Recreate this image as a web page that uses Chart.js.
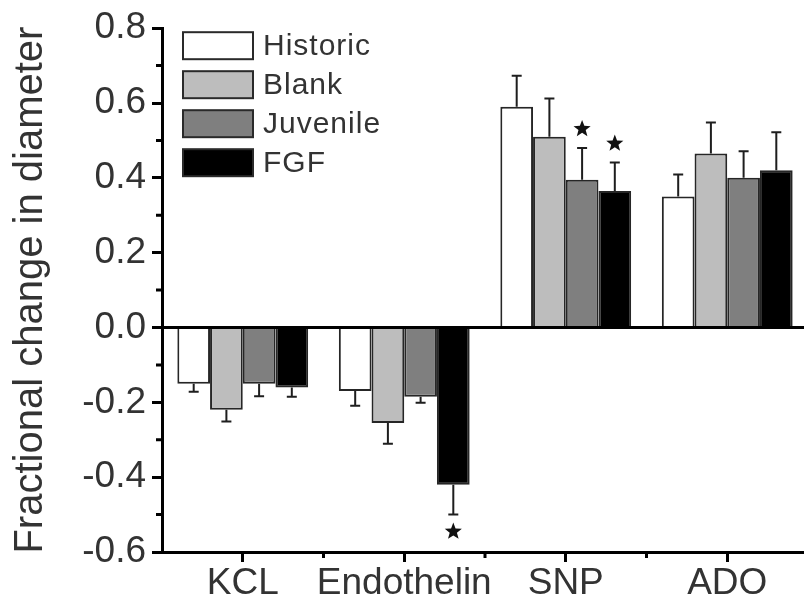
<!DOCTYPE html>
<html>
<head>
<meta charset="utf-8">
<script src="https://cdn.jsdelivr.net/npm/chart.js@4"></script>
<style>
  html, body { margin: 0; padding: 0; background: #fff; overflow: hidden; }
  canvas { display: block; }
</style>
</head>
<body>
<canvas id="c" width="810" height="607"></canvas>
<script>
// Vessel response by treatment group
const categories = ['KCL', 'Endothelin', 'SNP', 'ADO'];
const seriesNames = ['Historic', 'Blank', 'Juvenile', 'FGF'];

const historic = [-0.15, -0.17, 0.59, 0.35];
const blank    = [-0.22, -0.255, 0.51, 0.465];
const juvenile = [-0.15, -0.185, 0.395, 0.40];
const fgf      = [-0.16, -0.42, 0.365, 0.42];

// standard errors (drawn away from zero)
const historicErr = [0.022, 0.039, 0.083, 0.059];
const blankErr    = [0.031, 0.056, 0.102, 0.083];
const juvenileErr = [0.034, 0.016, 0.085, 0.071];
const fgfErr      = [0.025, 0.080, 0.076, 0.102];

// significant differences: [series index, category index]
const significant = [[2, 2], [3, 2], [3, 1]];

const yTicks = [-0.6, -0.4, -0.2, 0.0, 0.2, 0.4, 0.6, 0.8];
const yMinorTicks = [-0.5, -0.3, -0.1, 0.1, 0.3, 0.5, 0.7];
const yTitle = 'Fractional change in diameter';

const fills = ['#ffffff', '#bdbdbd', '#7f7f7f', '#000000'];
const values = [historic, blank, juvenile, fgf];
const errors = [historicErr, blankErr, juvenileErr, fgfErr];

const FONT = '"Liberation Sans", Arial, sans-serif';
const TEXT = '#333333';

function drawStar(ctx, cx, cy, rOut, rIn) {
  ctx.beginPath();
  for (let k = 0; k < 10; k++) {
    const r = k % 2 === 0 ? rOut : rIn;
    const a = -Math.PI / 2 + k * Math.PI / 5;
    const px = cx + r * Math.cos(a), py = cy + r * Math.sin(a);
    if (k === 0) ctx.moveTo(px, py); else ctx.lineTo(px, py);
  }
  ctx.closePath();
  ctx.fill();
}

const extras = {
  id: 'extras',
  afterDatasetsDraw(chart) {
    const { ctx, chartArea, scales: { x, y } } = chart;
    ctx.save();
    // error bars
    ctx.strokeStyle = '#1e1e1e';
    ctx.lineWidth = 2;
    chart.data.datasets.forEach((ds, di) => {
      const meta = chart.getDatasetMeta(di);
      meta.data.forEach((bar, i) => {
        const v = ds.data[i], e = ds.errors[i];
        const end = y.getPixelForValue(v + Math.sign(v) * e);
        ctx.beginPath();
        ctx.moveTo(bar.x, bar.y);
        ctx.lineTo(bar.x, end);
        ctx.moveTo(bar.x - 5, end);
        ctx.lineTo(bar.x + 5, end);
        ctx.stroke();
      });
    });
    // significance stars
    ctx.fillStyle = '#111';
    significant.forEach(([di, i]) => {
      const ds = chart.data.datasets[di];
      const bar = chart.getDatasetMeta(di).data[i];
      const v = ds.data[i], e = ds.errors[i];
      const end = y.getPixelForValue(v + Math.sign(v) * e);
      const cy = v >= 0 ? end - 19 : end + 17;
      drawStar(ctx, bar.x, cy, 9, 3.8);
    });
    // zero line
    const y0 = y.getPixelForValue(0);
    ctx.strokeStyle = '#000';
    ctx.lineWidth = 3;
    ctx.beginPath();
    ctx.moveTo(chartArea.left, y0);
    ctx.lineTo(chartArea.right, y0);
    ctx.stroke();
    ctx.restore();
  },
  afterDraw(chart) {
    const { ctx, chartArea, scales: { x, y } } = chart;
    ctx.save();
    // minor ticks
    ctx.strokeStyle = '#000';
    ctx.lineWidth = 3;
    ctx.beginPath();
    yMinorTicks.forEach(v => {
      const py = y.getPixelForValue(v);
      ctx.moveTo(chartArea.left - 6, py);
      ctx.lineTo(chartArea.left, py);
    });
    for (let i = 0; i < categories.length; i++) {
      const px = i < categories.length - 1
        ? (x.getPixelForValue(i) + x.getPixelForValue(i + 1)) / 2
        : chartArea.right;
      ctx.moveTo(px, chartArea.bottom);
      ctx.lineTo(px, chartArea.bottom + 6);
    }
    ctx.stroke();

    // legend
    const bx = chartArea.left + 21, by = chartArea.top + 4;
    const bw = 70, bh = 27, step = 39;
    ctx.font = '30px ' + FONT;
    ctx.textBaseline = 'middle';
    ctx.textAlign = 'left';
    try { ctx.letterSpacing = '1px'; } catch (e) {}
    chart.data.datasets.forEach((ds, di) => {
      const top = by + di * step;
      ctx.fillStyle = ds.backgroundColor;
      ctx.fillRect(bx, top, bw, bh);
      ctx.strokeStyle = '#2a2a2a';
      ctx.lineWidth = 2;
      ctx.strokeRect(bx, top, bw, bh);
      ctx.fillStyle = TEXT;
      ctx.fillText(ds.label, bx + bw + 10, top + bh / 2 + 1);
    });
    ctx.restore();
  }
};

new Chart(document.getElementById('c'), {
  type: 'bar',
  data: {
    labels: categories,
    datasets: seriesNames.map((name, k) => ({
      label: name,
      data: values[k],
      errors: errors[k],
      backgroundColor: fills[k],
      borderColor: '#262626',
      borderWidth: 2,
      categoryPercentage: 0.81,
      barPercentage: 1.0
    }))
  },
  options: {
    responsive: false,
    animation: false,
    devicePixelRatio: 1,
    layout: { padding: { top: 28, right: 2, left: 0, bottom: 0 } },
    plugins: { legend: { display: false }, tooltip: { enabled: false } },
    scales: {
      x: {
        grid: { offset: false, drawOnChartArea: false, drawTicks: true, tickLength: 10, tickWidth: 3, tickColor: '#000' },
        border: { display: true, color: '#000', width: 3 },
        ticks: { color: TEXT, font: { family: FONT, size: 37 }, padding: 0, maxRotation: 0, autoSkip: false },
        afterFit: s => { s.height = 55; }
      },
      y: {
        min: -0.6,
        max: 0.8,
        afterBuildTicks: s => { s.ticks = yTicks.map(v => ({ value: v })); },
        grid: { drawOnChartArea: false, drawTicks: true, tickLength: 10, tickWidth: 3, tickColor: '#000' },
        border: { display: true, color: '#000', width: 3 },
        ticks: {
          color: TEXT,
          font: { family: FONT, size: 37 },
          padding: 6,
          callback: v => (Math.abs(v) < 1e-9 ? '0.0' : Number(v).toFixed(1))
        },
        title: {
          display: true,
          text: yTitle,
          color: TEXT,
          font: { family: FONT, size: 40, lineHeight: 1.2 },
          padding: { top: 7, bottom: 0 }
        },
        afterFit: s => { s.width = 162; }
      }
    }
  },
  plugins: [extras]
});
</script>
</body>
</html>
